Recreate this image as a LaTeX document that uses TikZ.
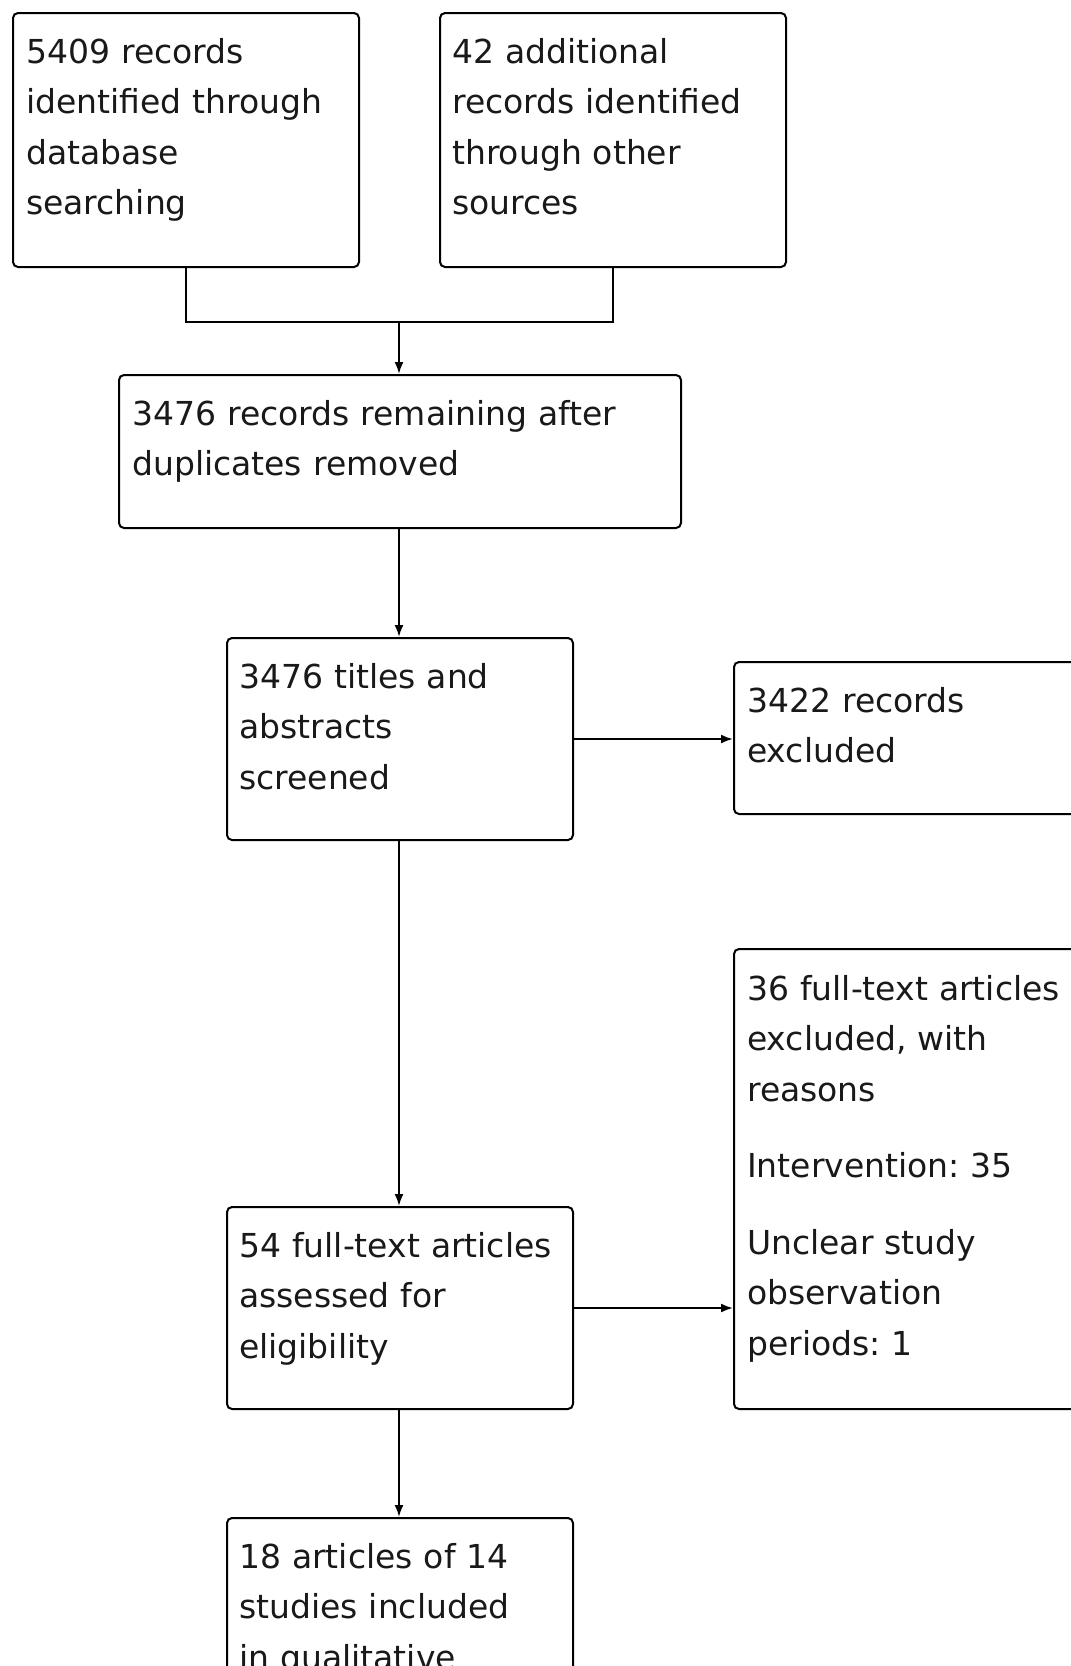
\documentclass[tikz,border=0pt]{standalone}
\usepackage{fontspec}
\setmainfont{DejaVu Sans}
\usetikzlibrary{arrows.meta}
\begin{document}
\frenchspacing
\begin{tikzpicture}[x=1pt,y=-1pt,
  box/.style={draw=black, line width=2pt, rounded corners=5pt, rectangle, inner sep=0pt, anchor=north west},
  txt/.style={anchor=base west, inner sep=0pt, text width=560pt, align=left,
    font=\fontsize{33}{50.5}\selectfont\frenchspacing, text=black!90},
  conn/.style={draw=black, line width=2pt},
  arr/.style={conn, -{Latex[length=12pt,width=9pt]}}]
\useasboundingbox (0,0) rectangle (1071,1666);
\fill[white] (0,0) rectangle (1071,1666);
% boxes
\node[box, minimum width=346pt, minimum height=254pt] (b1) at (12,12) {};
\node[box, minimum width=346pt, minimum height=254pt] (b2) at (439,12) {};
\node[box, minimum width=562pt, minimum height=153pt] (b3) at (118,374) {};
\node[box, minimum width=346pt, minimum height=202pt] (b4) at (226,637) {};
\node[box, minimum width=400pt, minimum height=152pt] (b5) at (733,661) {};
\node[box, minimum width=400pt, minimum height=460pt] (b6) at (733,948) {};
\node[box, minimum width=346pt, minimum height=202pt] (b7) at (226,1206) {};
\node[box, minimum width=346pt, minimum height=220pt] (b8) at (226,1517) {};
% texts
\node[txt] (t1) at (26,63) {5409 records\\identified through\\database\\searching};
\node[txt] (t2) at (452,63) {42 additional\\records identified\\through other\\sources};
\node[txt] (t3) at (132,425) {3476 records remaining after\\duplicates removed};
\node[txt] (t4) at (239,688) {3476 titles and\\abstracts\\screened};
\node[txt] (t5) at (747,712) {3422 records\\excluded};
\node[txt] (t6) at (747,1000) {36 full-text articles\\excluded, with\\reasons\\[26pt]Intervention: 35\\[26pt]Unclear study\\observation\\periods: 1};
\node[txt] (t7) at (239,1257) {54 full-text articles\\assessed for\\eligibility};
\node[txt] (t8) at (239,1568) {18 articles of 14\\studies included\\in qualitative};
% connectors
\coordinate (j) at (399,322);
\draw[conn] (b1.south) |- (j);
\draw[conn] (b2.south) |- (j);
\draw[arr] (j) -- (j |- b3.north);
\draw[arr] (b3.south -| j) -- (j |- b4.north);
\draw[arr] (b4.east) -- (b4.east -| b5.west);
\draw[arr] (b4.south -| j) -- (j |- b7.north);
\draw[arr] (b7.east) -- (b7.east -| b6.west);
\draw[arr] (b7.south -| j) -- (j |- b8.north);
\end{tikzpicture}
\end{document}
